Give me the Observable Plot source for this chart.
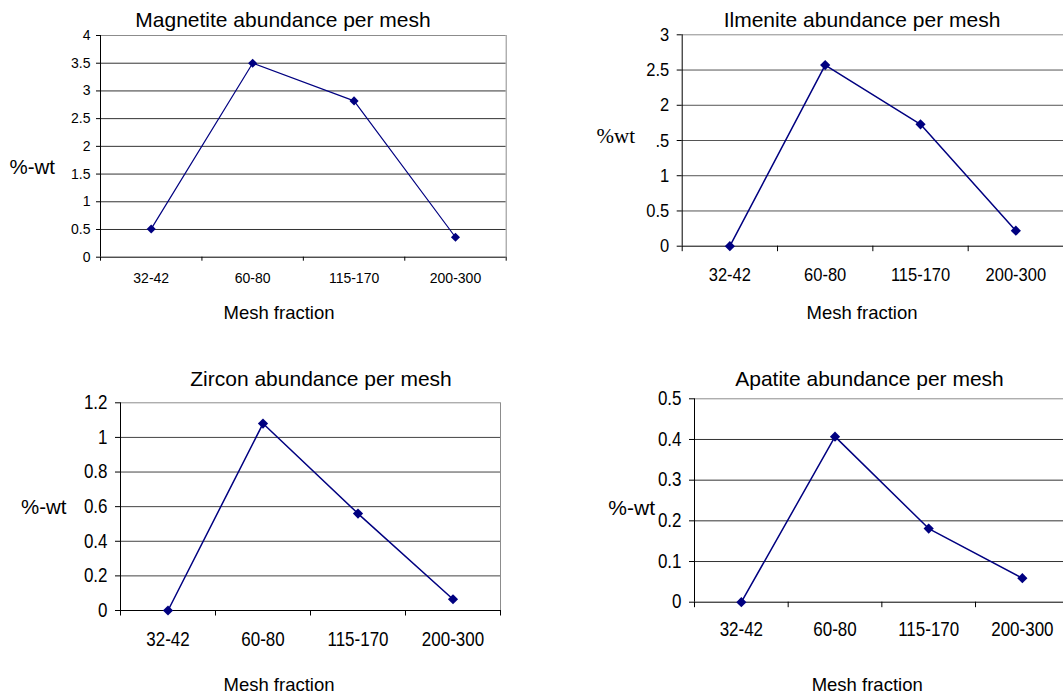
<!DOCTYPE html>
<html>
<head>
<meta charset="utf-8">
<script src="https://cdn.jsdelivr.net/npm/d3@7"></script>
<script src="https://cdn.jsdelivr.net/npm/@observablehq/plot@0.6"></script>
<style>
  html, body { margin: 0; padding: 0; background: #fff; }
  #page {
    position: relative; width: 1063px; height: 698px; overflow: hidden;
    background: #fff; color: #000;
    font-family: "Liberation Sans", Arial, sans-serif;
  }
  .txt { position: absolute; transform: translate(-50%, -50%); white-space: nowrap; line-height: 1; }
</style>
</head>
<body>
<div id="page"></div>
<script>
// Mesh fractions (x categories) shared by all four panels
const meshFractions = ["32-42", "60-80", "115-170", "200-300"];

// Mineral abundance (%-wt) per mesh fraction
const magnetite = [0.51, 3.5, 2.82, 0.36];
const ilmenite  = [0, 2.57, 1.73, 0.22];
const zircon    = [0, 1.08, 0.56, 0.065];
const apatite   = [0, 0.407, 0.181, 0.059];

// Y tick values and their printed labels
const magnetiteTicks = [0, 0.5, 1, 1.5, 2, 2.5, 3, 3.5, 4];
const magnetiteTickLabels = ["0", "0.5", "1", "1.5", "2", "2.5", "3", "3.5", "4"];
const ilmeniteTicks = [0, 0.5, 1, 1.5, 2, 2.5, 3];
const ilmeniteTickLabels = ["0", "0.5", "1", ".5", "2", "2.5", "3"];
const zirconTicks = [0, 0.2, 0.4, 0.6, 0.8, 1, 1.2];
const zirconTickLabels = ["0", "0.2", "0.4", "0.6", "0.8", "1", "1.2"];
const apatiteTicks = [0, 0.1, 0.2, 0.3, 0.4, 0.5];
const apatiteTickLabels = ["0", "0.1", "0.2", "0.3", "0.4", "0.5"];

const page = document.getElementById("page");
const SANS = '"Liberation Sans", Arial, sans-serif';
const SERIF = '"Liberation Serif", "Times New Roman", serif';

function addText(str, x, y, size, family) {
  const d = document.createElement("div");
  d.className = "txt";
  d.textContent = str;
  d.style.left = x + "px";
  d.style.top = y + "px";
  d.style.fontSize = size + "px";
  d.style.fontFamily = family || SANS;
  page.appendChild(d);
}

// Stretch tick labels vertically about their own centre (narrow, tall digits)
function stretchTickLabels(svg, k) {
  if (k === 1) return;
  svg.querySelectorAll('g[aria-label$="tick label"] text').forEach(t => {
    const b = t.getBBox();
    const cy = b.y + b.height / 2;
    const prev = t.getAttribute("transform") || "";
    t.setAttribute("transform", `${prev} translate(0 ${cy}) scale(1 ${k}) translate(0 ${-cy})`);
  });
}

function drawPanel(p) {
  const rows = meshFractions.map((m, i) => ({pos: i + 0.5, mesh: m, value: p.values[i]}));
  const yMax = p.ticks[p.ticks.length - 1];
  const svg = Plot.plot({
    width: p.width, height: p.height,
    marginLeft: p.ml, marginRight: p.mr, marginTop: p.mt, marginBottom: p.mb,
    style: {fontFamily: SANS, fontSize: p.fs + "px", background: "transparent", maxWidth: "none", overflow: "visible", color: "#000"},
    x: {domain: [0, meshFractions.length], axis: null},
    y: {domain: [0, yMax], axis: null},
    marks: [
      Plot.gridY({ticks: p.ticks.slice(1, -1), stroke: p.grid, strokeOpacity: 1}),
      Plot.ruleY([yMax], {stroke: "#8c8c8c"}),
      Plot.ruleX([meshFractions.length], {stroke: "#8c8c8c"}),
      Plot.ruleY([0], {stroke: "#000"}),
      Plot.ruleX([0], {stroke: "#000"}),
      Plot.axisY({
        ticks: p.ticks, tickSize: p.yTick, tickPadding: p.yPad, fontSize: p.fs, label: null,
        tickFormat: d => p.labels[p.ticks.indexOf(d)]
      }),
      // category boundary ticks
      Plot.axisX({ticks: d3.range(meshFractions.length + 1), tickSize: p.xTick, tickFormat: () => "", label: null}),
      // category names centred in each slot
      Plot.axisX({
        ticks: rows.map(r => r.pos), tickSize: 0, tickPadding: p.xPad, fontSize: p.fs, label: null,
        tickFormat: d => meshFractions[Math.floor(d)]
      }),
      Plot.line(rows, {x: "pos", y: "value", stroke: "#000080", strokeWidth: p.lw}),
      Plot.dot(rows, {x: "pos", y: "value", symbol: "diamond2", fill: "#000080", stroke: "none", r: p.r})
    ]
  });
  svg.style.position = "absolute";
  svg.style.left = p.left + "px";
  svg.style.top = p.top + "px";
  page.appendChild(svg);
  stretchTickLabels(svg, p.stretch);

  addText(p.title, p.titleX, p.titleY, 21);
  addText(p.yLabel, p.yLabelX, p.yLabelY, p.yLabelSize, p.yLabelFont);
  addText("Mesh fraction", p.xLabelX, p.xLabelY, 18.5);
}

drawPanel({
  title: "Magnetite abundance per mesh", values: magnetite, ticks: magnetiteTicks, labels: magnetiteTickLabels,
  left: 0, top: 0, width: 520, height: 300, ml: 100, mr: 14.3, mt: 35, mb: 43.3,
  fs: 14, yTick: 4, yPad: 6, xTick: 4, xPad: 16, lw: 1.2, r: 4.1, stretch: 1, grid: "#333",
  titleX: 283, titleY: 18.8, yLabel: "%-wt", yLabelX: 32.2, yLabelY: 167, yLabelSize: 20.5,
  xLabelX: 279, xLabelY: 312.7
});

drawPanel({
  title: "Ilmenite abundance per mesh", values: ilmenite, ticks: ilmeniteTicks, labels: ilmeniteTickLabels,
  left: 540, top: 0, width: 523, height: 300, ml: 141.7, mr: 0, mt: 34.3, mb: 54.3,
  fs: 16.5, yTick: 5, yPad: 8, xTick: 5.5, xPad: 22, lw: 1.5, r: 4.6, stretch: 1.15, grid: "#555",
  titleX: 862, titleY: 18.8, yLabel: "%wt", yLabelX: 615.8, yLabelY: 136.3, yLabelSize: 21, yLabelFont: SERIF,
  xLabelX: 862, xLabelY: 312.7
});

drawPanel({
  title: "Zircon abundance per mesh", values: zircon, ticks: zirconTicks, labels: zirconTickLabels,
  left: 0, top: 360, width: 520, height: 300, ml: 120, mr: 20, mt: 42.3, mb: 50,
  fs: 17, yTick: 5, yPad: 8, xTick: 5.5, xPad: 22.5, lw: 1.5, r: 4.6, stretch: 1.15, grid: "#444",
  titleX: 321, titleY: 378.3, yLabel: "%-wt", yLabelX: 43.7, yLabelY: 506.7, yLabelSize: 20.5,
  xLabelX: 279, xLabelY: 685
});

drawPanel({
  title: "Apatite abundance per mesh", values: apatite, ticks: apatiteTicks, labels: apatiteTickLabels,
  left: 540, top: 360, width: 529, height: 300, ml: 154, mr: 0.3, mt: 38.3, mb: 58.3,
  fs: 17, yTick: 5, yPad: 8, xTick: 5.5, xPad: 21, lw: 1.5, r: 4.6, stretch: 1.15, grid: "#333",
  titleX: 869.5, titleY: 378.3, yLabel: "%-wt", yLabelX: 631.7, yLabelY: 507, yLabelSize: 21,
  xLabelX: 867.2, xLabelY: 685
});
</script>
</body>
</html>
